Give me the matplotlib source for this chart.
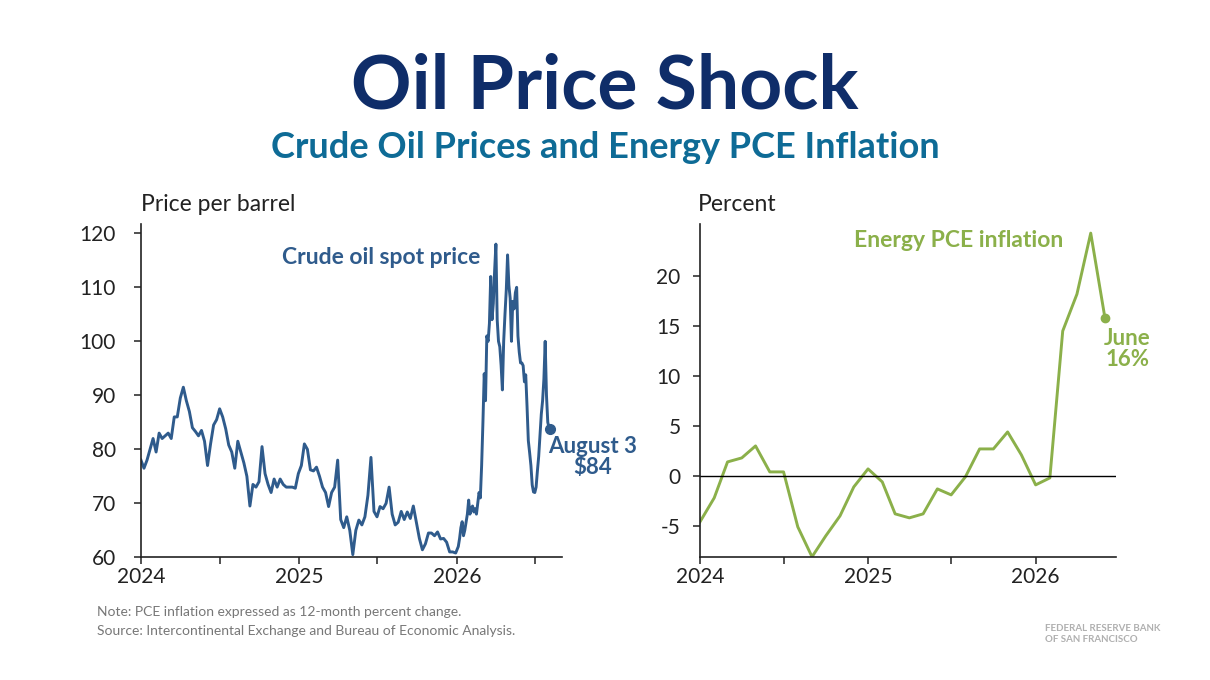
import matplotlib
matplotlib.use("Agg")
import matplotlib.pyplot as plt
import matplotlib.dates as mdates
import numpy as np
import pandas as pd

plt.rcParams['font.family'] = ['Lato', 'DejaVu Sans']

# crude oil spot price, weekly 2024-2025
oil_weekly = [78, 76.5, 78, 80, 82, 79.5, 83, 82, 82.5, 83, 82, 86, 86, 89.5, 91.5,
              89, 87, 84, 83.3, 82.5, 83.5, 81.5, 77, 81, 84.5, 85.5, 87.5, 86,
              83.8, 80.8, 79.5, 76.5, 81.5, 79.5, 77.5, 75, 69.5, 73.5, 73, 74,
              80.5, 75.5, 73.5, 72, 74.5, 73, 74.5, 73.5, 73, 73, 73, 72.8,
              75.5, 77, 81, 80, 76.2, 76, 76.7, 75, 73, 72, 69.4, 72, 73, 78,
              67, 65.5, 67.5, 65, 60.5, 65, 66.9, 66, 67.5, 71.5, 78.5, 68.5,
              67.5, 69.4, 69, 70, 73, 68, 66, 66.5, 68.5, 67, 68.4, 67.2, 69.5,
              66.5, 63.5, 61.4, 62.5, 64.5, 64.5, 64, 64.7, 63.4, 63.5, 62.8,
              61, 61, 60.8]
# 2026, every third day from Jan 1, then Aug 3
oil_2026 = [61.4, 62, 63.5, 65.5, 66.6, 64, 65, 66.5, 68, 70.6, 68, 69, 69.5,
            68.4, 69, 68, 70, 72, 71, 77, 85, 94, 89, 101, 100, 103.3, 112,
            104, 107, 113, 118, 104, 100, 99, 95.6, 91, 100, 105, 109.5, 116,
            110.4, 108, 100, 107.4, 106, 109, 110, 101, 98, 96, 96, 95.5, 92.5,
            93.8, 88, 81.6, 79.4, 77, 73.4, 72.1, 72, 73, 76, 78.7, 82.5, 86.5,
            89, 93, 100, 90, 85, 84, 83.8]

# energy PCE inflation, monthly Jan 2024 - Jun 2026
pce = [-4.6, -2.2, 1.4, 1.8, 3.0, 0.4, 0.4, -5.1, -8.1, -6.0, -4.0, -1.1,
       0.7, -0.6, -3.8, -4.2, -3.8, -1.3, -1.9, -0.1, 2.7, 2.7, 4.4, 2.1,
       -0.9, -0.2, 14.5, 18.2, 24.3, 15.8]

oil_dates = list(pd.date_range('2024-01-01', periods=len(oil_weekly), freq='7D')) + \
    list(pd.date_range('2026-01-01', periods=len(oil_2026) - 1, freq='3D')) + \
    [pd.Timestamp('2026-08-03')]
oil = oil_weekly + oil_2026
pce_dates = pd.date_range('2024-01-01', periods=len(pce), freq='MS')

blue = '#2f5b8c'
green = '#8bb04a'
tick_col = '#222222'

fig = plt.figure(figsize=(12.1, 6.8), dpi=100)
fig.text(0.5, 0.872, 'Oil Price Shock', ha='center', va='center',
         fontsize=54, fontweight='bold', color='#0f2d69')
fig.text(0.5, 0.783, 'Crude Oil Prices and Energy PCE Inflation', ha='center',
         va='center', fontsize=26, fontweight='bold', color='#0e6b96')

ax1 = fig.add_axes([0.1165, 0.1804, 0.348, 0.490])
ax2 = fig.add_axes([0.5785, 0.1804, 0.3438, 0.490])

for ax in (ax1, ax2):
    for s in ('top', 'right'):
        ax.spines[s].set_visible(False)
    for s in ('left', 'bottom'):
        ax.spines[s].set_linewidth(1.2)
        ax.spines[s].set_color(tick_col)
    ax.xaxis.set_major_locator(mdates.YearLocator())
    ax.xaxis.set_major_formatter(mdates.DateFormatter('%Y'))
    ax.xaxis.set_minor_locator(mdates.MonthLocator(bymonth=7))
    ax.tick_params(axis='both', which='both', direction='out', length=5,
                   width=1.1, color=tick_col, labelsize=15, labelcolor=tick_col, pad=2)
ax1.tick_params(axis='y', pad=13)
ax2.tick_params(axis='y', pad=9)

# left: oil price
ax1.plot(oil_dates, oil, color=blue, lw=2.1)
ax1.plot(oil_dates[-1], oil[-1], 'o', color=blue, ms=7)
ax1.set_xlim(pd.Timestamp('2024-01-01'), pd.Timestamp('2026-09-01'))
ax1.set_ylim(60, 121.7)
ax1.set_yticks([60, 70, 80, 90, 100, 110, 120])
ax1.text(0.0, 1.06, 'Price per barrel', transform=ax1.transAxes, fontsize=16.5,
         color=tick_col, ha='left', va='center')
ax1.text(0.335, 0.9, 'Crude oil spot price', transform=ax1.transAxes,
         fontsize=16.5, fontweight='bold', color=blue, ha='left', va='center')
ax1.annotate('August 3\n$84', xy=(oil_dates[-1], oil[-1]), xytext=(31, -5),
             textcoords='offset points', fontsize=16, fontweight='bold', color=blue,
             ha='center', va='top', linespacing=1.0, annotation_clip=False)

# right: energy PCE inflation
ax2.plot(pce_dates, pce, color=green, lw=2.1)
ax2.plot(pce_dates[-1], pce[-1], 'o', color=green, ms=6)
ax2.axhline(0, color='black', lw=1)
ax2.set_xlim(pd.Timestamp('2024-01-01'), pd.Timestamp('2026-06-25'))
ax2.set_ylim(-8.15, 25.2)
ax2.set_yticks([-5, 0, 5, 10, 15, 20])
ax2.set_yticklabels(['-5', '0', '5', '10', '15', '20'])
ax2.text(-0.006, 1.06, 'Percent', transform=ax2.transAxes, fontsize=16.5,
         color=tick_col, ha='left', va='center')
ax2.text(0.37, 0.95, 'Energy PCE inflation', transform=ax2.transAxes,
         fontsize=16.5, fontweight='bold', color=green, ha='left', va='center')
ax2.annotate('June\n16%', xy=(pce_dates[-1], pce[-1]), xytext=(16, -7),
             textcoords='offset points', fontsize=16, fontweight='bold', color=green,
             ha='center', va='top', linespacing=1.0, annotation_clip=False)

fig.text(0.08, 0.1, 'Note: PCE inflation expressed as 12-month percent change.',
         fontsize=10, color='#777777', ha='left', va='center')
fig.text(0.08, 0.072, 'Source: Intercontinental Exchange and Bureau of Economic Analysis.',
         fontsize=10, color='#777777', ha='left', va='center')
fig.text(0.864, 0.068, 'FEDERAL RESERVE BANK\nOF SAN FRANCISCO', fontsize=7.0,
         fontweight='bold', color='#b0b0b0', ha='left', va='center', linespacing=1.35)

fig.savefig('out.png', dpi=100, facecolor='white')
